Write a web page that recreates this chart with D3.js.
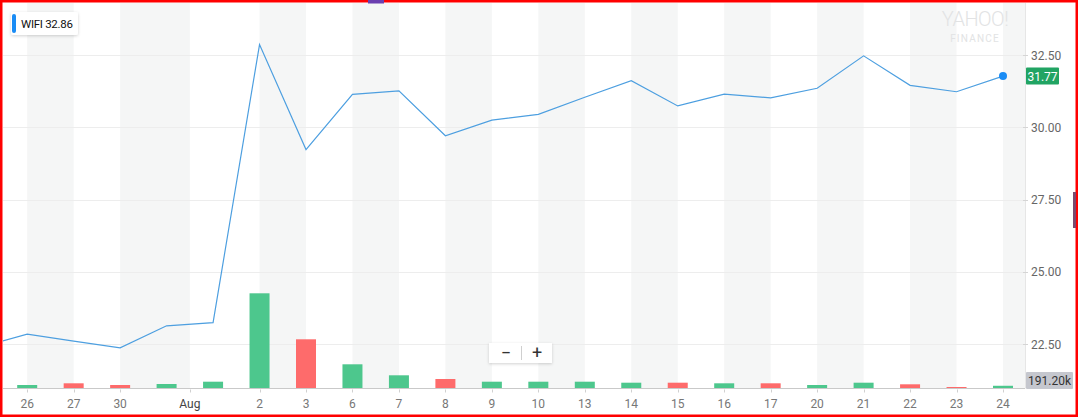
<!DOCTYPE html>
<html>
<head>
<meta charset="utf-8">
<script src="https://cdn.jsdelivr.net/npm/d3@7"></script>
<style>
  html, body { margin: 0; padding: 0; background: #fff; }
  svg { display: block; }
  text { font-family: Roboto, "Liberation Sans", sans-serif; }
</style>
</head>
<body>
<svg id="chart" width="1078" height="417"></svg>
<script>
// ---- data ----
const dates = ["Jul 25","Jul 26","Jul 27","Jul 30","Jul 31","Aug 1","Aug 2","Aug 3","Aug 6","Aug 7","Aug 8","Aug 9","Aug 10","Aug 13","Aug 14","Aug 15","Aug 16","Aug 17","Aug 20","Aug 21","Aug 22","Aug 23","Aug 24"];
const closes = [22.41, 22.85, 22.61, 22.38, 23.14, 23.25, 32.86, 29.23, 31.14, 31.26, 29.71, 30.25, 30.45, 31.04, 31.61, 30.74, 31.15, 31.02, 31.35, 32.47, 31.45, 31.23, 31.77];
const volumesK = [300, 245, 364, 245, 315, 476, 6664, 3444, 1694, 924, 665, 476, 476, 476, 406, 406, 364, 364, 245, 406, 294, 105, 191.2];
// x-axis tick labels: [index position, label]
const tickPositions = [1, 2, 3, 4.5, 6, 7, 8, 9, 10, 11, 12, 13, 14, 15, 16, 17, 18, 19, 20, 21, 22];
const tickLabels = ["26","27","30","Aug","2","3","6","7","8","9","10","13","14","15","16","17","20","21","22","23","24"];
const yTicks = [22.5, 25, 27.5, 30, 32.5];
const ticker = "WIFI";
const legendValue = 32.86;

// ---- layout ----
const W = 1078, H = 417;
const plotLeft = 3, plotRight = 1025, plotTop = 3, baseY = 388.5;

const svg = d3.select("#chart");

const x = d3.scaleLinear().domain([1, 22]).range([27.2, 1003]);
const y = d3.scaleLinear().domain([22.5, 32.5]).range([344.3, 55]);
const maxVol = d3.max(volumesK);
const v = d3.scaleLinear().domain([0, maxVol]).range([0, 95.2]);

svg.append("defs").append("clipPath").attr("id", "plotclip")
  .append("rect").attr("x", plotLeft).attr("y", plotTop)
  .attr("width", plotRight - plotLeft).attr("height", baseY - plotTop);

const filt = svg.select("defs").append("filter").attr("id", "shadow")
  .attr("x", "-20%").attr("y", "-30%").attr("width", "140%").attr("height", "170%");
filt.append("feDropShadow").attr("dx", 0).attr("dy", 1).attr("stdDeviation", 1.5)
  .attr("flood-color", "#000").attr("flood-opacity", 0.18);

// alternating bands
const bandG = svg.append("g").attr("clip-path", "url(#plotclip)");
const bandEdges = tickPositions.map(p => x(p)).concat([plotRight]);
for (let i = 0; i + 1 < bandEdges.length; i += 2) {
  bandG.append("rect")
    .attr("x", bandEdges[i]).attr("y", plotTop)
    .attr("width", bandEdges[i + 1] - bandEdges[i])
    .attr("height", baseY - plotTop)
    .attr("fill", "#f5f6f6");
}

// horizontal grid lines
svg.append("g").selectAll("line").data(yTicks).join("line")
  .attr("x1", plotLeft).attr("x2", plotRight)
  .attr("y1", d => Math.round(y(d)) + 0.5).attr("y2", d => Math.round(y(d)) + 0.5)
  .attr("stroke", "#ededed").attr("stroke-width", 1);

// right vertical divider
svg.append("line").attr("x1", plotRight + 0.5).attr("x2", plotRight + 0.5)
  .attr("y1", plotTop).attr("y2", baseY)
  .attr("stroke", "#e6e6e6");

// volume bars
const barW = 20;
svg.append("g").attr("clip-path", "url(#plotclip)")
  .selectAll("rect").data(volumesK).join("rect")
  .attr("x", (d, i) => x(i) - barW / 2)
  .attr("y", d => baseY - v(d))
  .attr("width", barW)
  .attr("height", d => v(d))
  .attr("fill", (d, i) => (i === 0 || closes[i] >= closes[i - 1]) ? "#4dc78d" : "#fe6b6b");

// baseline axis
svg.append("line").attr("x1", plotLeft).attr("x2", plotRight)
  .attr("y1", baseY).attr("y2", baseY).attr("stroke", "#c9c9c9");

// x axis ticks & labels
const xg = svg.append("g");
xg.selectAll("line").data(tickPositions).join("line")
  .attr("x1", d => Math.round(x(d)) + 0.5).attr("x2", d => Math.round(x(d)) + 0.5)
  .attr("y1", baseY + 1).attr("y2", baseY + 4)
  .attr("stroke", "#d0d0d0");
xg.selectAll("text").data(tickLabels).join("text")
  .attr("x", (d, i) => x(tickPositions[i]))
  .attr("y", 408)
  .attr("text-anchor", "middle")
  .attr("font-size", 12)
  .attr("fill", d => d === "Aug" ? "#444" : "#777")
  .text(d => d);

// price line
const line = d3.line().x((d, i) => x(i)).y(d => y(d));
svg.append("path").datum(closes)
  .attr("clip-path", "url(#plotclip)")
  .attr("d", line)
  .attr("fill", "none")
  .attr("stroke", "#4d9fe0")
  .attr("stroke-width", 1.2)
  .attr("stroke-linejoin", "miter");

// last point dot
const lastI = closes.length - 1;
svg.append("circle").attr("cx", x(lastI)).attr("cy", y(closes[lastI])).attr("r", 4)
  .attr("fill", "#1a8cf5");

// y axis ticks and labels
const yg = svg.append("g");
yg.selectAll("line").data(yTicks).join("line")
  .attr("x1", plotRight - 2).attr("x2", plotRight + 3)
  .attr("y1", d => Math.round(y(d)) + 0.5).attr("y2", d => Math.round(y(d)) + 0.5)
  .attr("stroke", "#d5d5d5");
yg.selectAll("text").data(yTicks).join("text")
  .attr("x", 1031).attr("y", d => y(d) + 4.5)
  .attr("font-size", 12).attr("fill", "#666")
  .text(d => d3.format(".2f")(d));

// last price tag
const py = y(closes[lastI]);
svg.append("rect").attr("x", 1026).attr("y", py - 8.5).attr("width", 33).attr("height", 17)
  .attr("rx", 1).attr("fill", "#21a463");
svg.append("text").attr("x", 1042.5).attr("y", py + 4.5).attr("text-anchor", "middle")
  .attr("font-size", 12).attr("fill", "#fff").text(d3.format(".2f")(closes[lastI]));

// last volume tag
svg.append("rect").attr("x", 1026).attr("y", 372).attr("width", 47).attr("height", 17)
  .attr("rx", 1).attr("fill", "#c5c7ce");
svg.append("text").attr("x", 1049.5).attr("y", 385).attr("text-anchor", "middle")
  .attr("font-size", 12).attr("fill", "#333")
  .text(d3.format(".2f")(volumesK[lastI]) + "k");

// Yahoo finance watermark
svg.append("text").attr("x", 975).attr("y", 26).attr("text-anchor", "middle")
  .attr("font-size", 20).attr("font-weight", 300).attr("fill", "#e2e3e4")
  .attr("letter-spacing", -0.5).text("YAHOO!");
svg.append("text").attr("x", 975).attr("y", 42).attr("text-anchor", "middle")
  .attr("font-size", 10).attr("font-weight", 400).attr("fill", "#e2e3e4")
  .attr("letter-spacing", 1.2).text("FINANCE");

// legend
const lg = svg.append("g");
lg.append("rect").attr("x", 11).attr("y", 12).attr("width", 67).attr("height", 23)
  .attr("rx", 2).attr("fill", "#fff").attr("filter", "url(#shadow)");
lg.append("rect").attr("x", 12).attr("y", 14).attr("width", 4).attr("height", 19)
  .attr("rx", 2).attr("fill", "#1a8cf5");
lg.append("text").attr("x", 21).attr("y", 28).attr("font-size", 11.5).attr("fill", "#111")
  .attr("letter-spacing", -0.3)
  .text(ticker + " " + d3.format(".2f")(legendValue));

// zoom control
const zc = svg.append("g");
zc.append("rect").attr("x", 489).attr("y", 343).attr("width", 63).attr("height", 20)
  .attr("fill", "#fff").attr("filter", "url(#shadow)");
zc.append("line").attr("x1", 521.5).attr("x2", 521.5).attr("y1", 346).attr("y2", 360)
  .attr("stroke", "#cfcfcf");
zc.append("text").attr("x", 506).attr("y", 359).attr("text-anchor", "middle")
  .attr("font-size", 18).attr("fill", "#333").text("\u2212");
zc.append("text").attr("x", 537).attr("y", 359).attr("text-anchor", "middle")
  .attr("font-size", 18).attr("fill", "#333").text("+");

// red frame
svg.append("rect").attr("x", 1.25).attr("y", 1.25).attr("width", W - 2.5).attr("height", H - 2.5)
  .attr("fill", "none").attr("stroke", "#ff0000").attr("stroke-width", 2.5);

// small artifacts at edges (drawn over the frame)
svg.append("rect").attr("x", 368).attr("y", 0).attr("width", 16).attr("height", 3.5).attr("fill", "#6b3fb0");
svg.append("rect").attr("x", 1073).attr("y", 192).attr("width", 3).attr("height", 36).attr("fill", "#7a4a6e");
</script>
</body>
</html>
